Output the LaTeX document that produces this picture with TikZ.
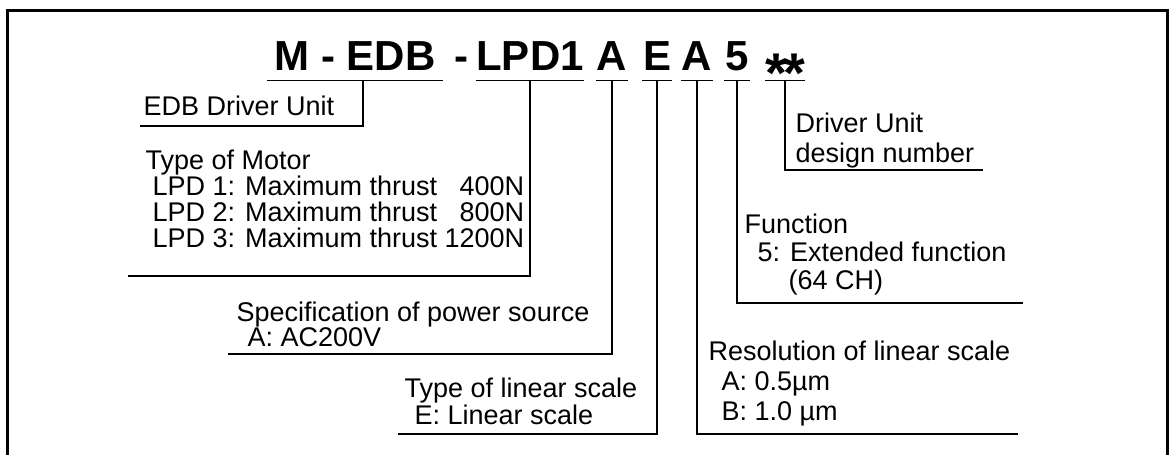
\documentclass[tikz,border=0pt]{standalone}
\usepackage{fontspec}
\setmainfont{Liberation Sans}
\newcommand\codefont{\fontsize{42}{42}\selectfont\bfseries}
\newcommand\stars{\fontsize{56}{56}\selectfont\raisebox{-22pt}{*\kern-4pt*}}
\newcommand\thr[1]{\makebox[87pt][r]{#1}}
\begin{document}
\begin{tikzpicture}[x=1pt, y=-1pt, line width=1.3pt,
  code/.style={font=\codefont, anchor=base, inner xsep=0pt, inner ysep=10pt, text depth=0pt},
  lskip/.style={font=\fontsize{27}{#1}\selectfont},
  lbl/.style={lskip=26, anchor=south west, align=left, text depth=0pt, inner ysep=8pt}]
  \useasboundingbox (0,0) rectangle (1170,455);

  % frame
  \draw[line width=3pt] (7,10) rectangle (1167,480);

  % model code
  \node[code, minimum width=174pt] (cM) at (355,70) {M - EDB};
  \node[code] (cdash) at (461,70) {-};
  \node[code, minimum width=105pt] (cL) at (530,70) {LPD1};
  \node[code, minimum width=26pt] (cA) at (612,70) {A};
  \node[code, minimum width=26pt] (cE) at (657,70) {E};
  \node[code, minimum width=26pt] (cP) at (697,70) {A};
  \node[code, minimum width=24pt] (c5) at (737,70) {5};
  \node[code, minimum width=33pt] (cN) at (785,70) {\stars};
  \foreach \c in {cM,cL,cA,cE,cP,c5,cN}
    \draw (\c.south west) -- (\c.south east);

  % labels on the left
  \node[lbl, inner xsep=3pt, inner ysep=9.5pt] (lUnit) at (140,126) {EDB Driver Unit};
  \node[lbl, inner xsep=17pt, inner ysep=28pt] (lMotor) at (128,276)
    {Type of Motor\\\hspace*{7pt}LPD 1: Maximum thrust\thr{400N}\\
     \hspace*{7pt}LPD 2: Maximum thrust\thr{800N}\\
     \hspace*{7pt}LPD 3: Maximum thrust\thr{1200N}};
  \node[lbl, lskip=25, inner xsep=8pt, inner ysep=7pt] (lPower) at (228,354)
    {Specification of power source\\\hspace*{11pt}A: AC200V};
  \node[lbl, lskip=27, inner xsep=6pt, inner ysep=9pt] (lScale) at (398,434)
    {Type of linear scale\\\hspace*{10pt}E: Linear scale};

  % labels on the right
  \node[lbl, lskip=30, inner xsep=9pt, inner ysep=13pt] (lRes) at (699,434)
    {Resolution of linear scale\\\hspace*{13pt}A: 0.5µm\\\hspace*{13pt}B: 1.0 µm};
  \node[lbl, lskip=28, inner xsep=7pt, inner ysep=13pt] (lFunc) at (737,303)
    {Function\\\hspace*{13pt}5: Extended function\\\hspace*{44pt}(64 CH)};
  \node[lbl, lskip=30, inner xsep=8pt, inner ysep=7pt] (lDesign) at (787,170)
    {Driver Unit\\design number};
  \coordinate (eRes) at (1018,434);
  \coordinate (eFunc) at (1023,303);
  \coordinate (eDesign) at (983,170);

  % leaders
  \draw ([xshift=8pt]cM.south) |- (lUnit.south west);
  \draw (cL.south) |- (lMotor.south west);
  \draw (cA.south) |- (lPower.south west);
  \draw (cE.south) |- (lScale.south west);
  \draw (cP.south) |- (eRes);
  \draw (c5.south) |- (eFunc);
  \draw (cN.south) |- (eDesign);
\end{tikzpicture}
\end{document}
